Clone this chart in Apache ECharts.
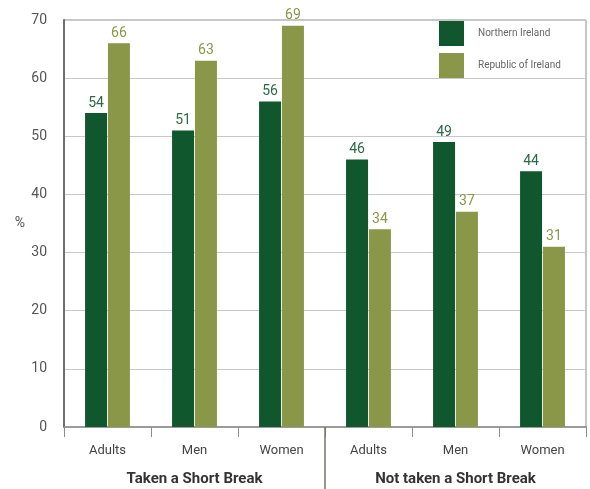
<!DOCTYPE html>
<html>
<head>
<meta charset="utf-8">
<script src="https://cdn.jsdelivr.net/npm/echarts@6/dist/echarts.min.js"></script>
<style>
  html, body { margin: 0; padding: 0; background: #fff; }
  #chart { width: 590px; height: 489px; }
</style>
</head>
<body>
<div id="chart"></div>
<script>
var categories = ["Adults", "Men", "Women", "Adults", "Men", "Women"];
var groups = ["Taken a Short Break", "Not taken a Short Break"];
var northernIreland = [54, 51, 56, 46, 49, 44];
var republicOfIreland = [66, 63, 69, 34, 37, 31];

var darkGreen = "#10572e";
var olive = "#8a9748";
var font = "Roboto";

var myChart = echarts.init(document.getElementById("chart"));

var option = {
    animation: false,
    textStyle: { fontFamily: font },
    grid: {
        left: 64, right: 4, top: 20, bottom: 62,
        show: true, borderColor: "#8c8c8c", borderWidth: 1
    },
    legend: {
        orient: "vertical",
        left: 439, top: 21,
        padding: 0,
        itemWidth: 25, itemHeight: 25, itemGap: 7,
        icon: "rect",
        textStyle: { fontSize: 10, color: "#666", padding: [0, 0, 0, 9] },
        data: ["Northern Ireland", "Republic of Ireland"]
    },
    xAxis: [{
        type: "category",
        data: categories,
        axisLine: { lineStyle: { color: "#8c8c8c", width: 1.5 } },
        axisTick: { show: true, length: 10, interval: 0, lineStyle: { color: "#8c8c8c" } },
        axisLabel: { color: "#444", fontSize: 13, margin: 17, interval: 0 }
    }, {
        type: "value",
        position: "bottom",
        min: 0, max: 6,
        axisLine: { show: false },
        splitLine: { show: false },
        axisTick: { show: true, customValues: [3], length: 62, lineStyle: { color: "#7a716a", width: 1.5 } },
        axisLabel: {
            customValues: [1.5, 4.5],
            margin: 45,
            color: "#333", fontSize: 15, fontWeight: "bold",
            formatter: function (v) { return v < 3 ? groups[0] : groups[1]; }
        }
    }],
    yAxis: {
        type: "value",
        min: 0, max: 70, interval: 10,
        name: "%",
        nameLocation: "middle",
        nameRotate: 0,
        nameGap: 39,
        nameTextStyle: { color: "#555", fontSize: 14, padding: [0, 0, 16, 0] },
        axisLine: { show: true, lineStyle: { color: "#6d6d6d", width: 2 } },
        axisTick: { show: false },
        axisLabel: { color: "#555", fontSize: 14, margin: 17 },
        splitLine: { lineStyle: { color: "#c8c8c8" } }
    },
    series: [{
        name: "Northern Ireland",
        type: "bar",
        data: northernIreland,
        barWidth: 22,
        barGap: "4%",
        itemStyle: { color: darkGreen },
        label: { show: true, position: "top", distance: 3, color: "#2b6a45", fontSize: 14 }
    }, {
        name: "Republic of Ireland",
        type: "bar",
        data: republicOfIreland,
        barWidth: 22,
        itemStyle: { color: olive },
        label: { show: true, position: "top", distance: 3, color: olive, fontSize: 14 }
    }]
};

myChart.setOption(option);
window.addEventListener("resize", function () {
    myChart.resize();
});
</script>
</body>
</html>
